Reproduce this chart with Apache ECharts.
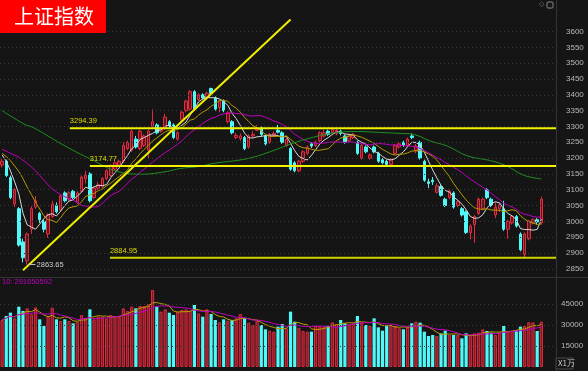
<!DOCTYPE html>
<html><head><meta charset="utf-8">
<script src="https://cdn.jsdelivr.net/npm/echarts@6/dist/echarts.min.js"></script>
<style>html,body{margin:0;padding:0;background:#151515;}#c{width:588px;height:371px;}</style>
</head><body><div id="c"></div>
<script>
// ---- data ----
const opens  = [3178,3190,3138,3055,3040,2935,2875,2975,3045,3025,3000,2960,3015,3050,3035,3090,3070,3095,3060,3095,
3135,3150,3075,3105,3110,3135,3145,3165,3177,3190,3230,3225,3260,3230,3240,3225,3300,3305,3285,3295,
3315,3305,3260,3320,3350,3355,3410,3385,3400,3390,3420,3390,3360,3380,3315,3315,3265,3262,3265,3235,
3270,3288,3295,3270,3250,3272,3288,3280,3240,3230,3185,3160,3190,3215,3245,3240,3255,3270,3285,3280,
3278,3285,3270,3255,3265,3250,3200,3235,3200,3235,3215,3195,3190,3180,3215,3235,3250,3240,3270,3222,
3250,3190,3125,3130,3092,3110,3070,3075,3090,3050,3040,3030,2965,2990,3025,3040,3100,3070,3020,3040,
3040,2975,2995,3015,2960,2895,2945,2995,3005,2995];
const closes = [3190,3145,3075,3100,2925,2885,2960,3040,3065,3005,2975,3020,3055,3030,3080,3065,3090,3075,3090,3140,
3145,3065,3105,3115,3135,3160,3175,3185,3190,3240,3250,3285,3235,3285,3270,3285,3315,3280,3295,3330,
3300,3265,3280,3345,3380,3410,3355,3400,3390,3405,3405,3355,3380,3350,3343,3280,3272,3270,3230,3270,
3275,3292,3275,3245,3275,3278,3282,3250,3260,3165,3160,3190,3220,3235,3238,3250,3280,3280,3275,3290,
3288,3278,3250,3270,3275,3215,3240,3220,3210,3220,3190,3185,3180,3195,3240,3245,3240,3260,3265,3238,
3200,3130,3120,3125,3112,3082,3050,3095,3045,3062,3020,2965,2985,3015,3070,3070,3075,3050,3045,3052,
2975,3000,3015,2985,2910,2960,3000,3005,2998,3070];
const highs  = [3198,3195,3145,3105,3045,2945,2965,3048,3080,3030,3005,3025,3065,3060,3085,3095,3095,3100,3095,3145,
3160,3155,3110,3125,3140,3165,3180,3190,3195,3250,3255,3290,3270,3290,3275,3290,3355,3310,3300,3340,
3320,3310,3285,3350,3385,3415,3415,3405,3405,3410,3423,3395,3385,3385,3348,3320,3280,3278,3270,3275,
3285,3305,3300,3275,3280,3285,3305,3285,3265,3235,3190,3195,3225,3240,3250,3255,3285,3290,3290,3295,
3292,3290,3275,3275,3280,3255,3245,3240,3215,3240,3220,3200,3195,3200,3245,3250,3255,3265,3278,3245,
3255,3195,3135,3140,3120,3115,3075,3100,3095,3068,3045,3035,2990,3020,3075,3075,3105,3075,3060,3060,
3065,3005,3020,3020,2965,2965,3005,3010,3010,3078];
const lows   = [3170,3140,3070,3045,2920,2870,2863.65,2960,3040,2995,2965,2948,3010,3025,3030,3060,3065,3070,3055,3090,
3120,3060,3070,3100,3105,3130,3140,3160,3172,3185,3225,3220,3230,3225,3235,3200,3295,3275,3280,3290,
3295,3260,3255,3315,3345,3350,3350,3380,3385,3385,3400,3350,3345,3345,3310,3275,3260,3255,3225,3230,
3265,3285,3270,3240,3245,3268,3278,3245,3235,3160,3155,3155,3185,3210,3232,3235,3250,3265,3270,3275,
3272,3272,3245,3250,3260,3210,3195,3215,3195,3215,3185,3180,3175,3175,3210,3230,3235,3235,3260,3215,
3195,3125,3105,3115,3088,3078,3045,3070,3040,3045,3015,2960,2943,2932,3020,3035,3070,3045,3010,3030,
2970,2945,2990,2980,2905,2884.95,2940,2990,2990,2990];
// volume in 万
const volumes = [33571,36429,38810,34762,43095,40000,41905,37619,42619,34048,29286,35952,42381,34048,32857,34048,32857,31190,32381,37143,
34762,41190,34048,35952,35952,34762,37143,35952,35952,41905,40000,43095,41905,43571,43571,45000,55000,43095,39524,41190,
38810,37143,39524,40714,41190,40238,44286,38333,35952,41190,37857,33571,31905,34048,33095,33571,34762,37857,34762,31667,
30000,33095,30000,26905,25952,25238,28810,30714,27619,39524,32381,28000,25714,25238,25238,29286,29286,28810,29286,31905,
30714,33571,31190,30714,31190,36429,31667,30000,29286,34762,28333,25952,29286,30000,29286,27619,26905,28333,31190,32381,
31667,25238,22143,22857,22143,24048,25952,22857,22857,22857,20476,24048,22143,24048,24524,26905,25714,24524,22857,24524,
29286,25238,25952,25952,28810,29286,31905,31905,25714,32381];
// moving-average values before enough history exists
const ma5Lead  = [3210,3190,3160,3125];
const ma10Lead = [3215,3205,3192,3175,3158,3135,3108,3085,3060];
const ma20Lead = [3228,3222,3215,3209,3203,3193,3183,3172,3160,3145,3130,3115,3103,3093,3085,3078,3072,3067,3060];
// MA60: [candle index, value]
const ma60Points = [[0,3350],[5.5,3306],[7.4,3297],[15.5,3235],[21,3198],[27.5,3158],[33.7,3149],[39.5,3158],[42.6,3167],
[47.4,3174],[50.5,3183],[58.6,3198],[64.1,3220],[68.9,3244],[74.4,3266],[80.2,3281],[85,3284],[90.5,3281],[95.3,3278],
[98.4,3275],[102.4,3254],[106.5,3238],[111.3,3207],[116.8,3192],[120.9,3174],[124.7,3146],[129,3134]];
// drawn lines
const levels = [3294.39, 3174.77, 2884.95];
const levelStarts = [16.2, 21.0, 25.8];
const trendLine = [[5, 2845], [69, 3638]];
const priceTicks = [2850,2900,2950,3000,3050,3100,3150,3200,3250,3300,3350,3400,3450,3500,3550,3600];
const volTicks = [15000, 30000, 45000];
const title = '上证指数';
const volLabel = '10: 291650592';

// ---- build ----
const N = opens.length, EXTRA = 3, M = N + EXTRA;
const categories = Array.from({length: M}, (_, i) => 'D' + (i + 1));
function ma(arr, n, lead) {
  return arr.map((_, i) => {
    if (i < n - 1) return lead ? lead[i] : +(arr.slice(0, i + 1).reduce((a, b) => a + b, 0) / (i + 1)).toFixed(2);
    let s = 0; for (let k = i - n + 1; k <= i; k++) s += arr[k];
    return +(s / n).toFixed(2);
  });
}
const UP = '#e42c3e', UPFILL = '#5e1621', DN = '#50f8f8';
const candle = opens.map((o, i) => [o, closes[i], lows[i], highs[i]]);
const volData = volumes.map((v, i) => ({
  value: v,
  itemStyle: closes[i] >= opens[i]
    ? {color: '#7e1a27', borderColor: '#dc2a3c', borderWidth: 1}
    : {color: DN, borderColor: DN, borderWidth: 0}
}));
let lowIdx = 0; lows.forEach((l, i) => { if (l < lows[lowIdx]) lowIdx = i; });
const lowVal = lows[lowIdx];

const dotted = {type: [1, 3], color: '#3a3a3a', width: 1};
const chart = echarts.init(document.getElementById('c'));
const lineS = (data, color, extra) => Object.assign({
  type: 'line', data, symbol: 'none', showSymbol: false, silent: true,
  lineStyle: {color, width: 1}, z: 4
}, extra || {});

const series = [
  {
    type: 'candlestick', data: candle, barWidth: 3,
    itemStyle: {color: UPFILL, color0: DN, borderColor: UP, borderColor0: DN, borderWidth: 1},
    z: 3,
    markLine: {silent: true, symbol: ['none', 'none'], label: {show: false}, lineStyle: dotted, animation: false,
      data: priceTicks.map(v => ({yAxis: v}))}
  },
  lineS(ma(closes, 5, ma5Lead), '#d8d8d8'),
  lineS(ma(closes, 10, ma10Lead), '#b49a00'),
  lineS(ma(closes, 20, ma20Lead), '#c000c0'),
  lineS(ma60Points, '#1e8f1e', {xAxisIndex: 1, smooth: 0.4}),
  lineS(trendLine, '#eeee00', {xAxisIndex: 1, lineStyle: {color: '#eeee00', width: 2}, z: 6}),
  ...levels.map((lv, k) => ({
    type: 'line', xAxisIndex: 1, yAxisIndex: 0, silent: true, symbol: 'circle', symbolSize: 0.01, z: 6,
    lineStyle: {color: k === 2 ? '#d2d200' : '#f2f200', width: 2},
    data: [{value: [levelStarts[k], lv], label: {show: true, formatter: lv.toFixed(2), position: [0, -11],
      color: '#dede00', fontSize: 7.5, fontFamily: 'Liberation Sans'}}, [M - 0.5, lv]]
  })),
  {
    type: 'line', xAxisIndex: 1, yAxisIndex: 0, silent: true, symbol: 'circle', symbolSize: 0.01, z: 6,
    lineStyle: {color: '#c8c8c8', width: 1},
    data: [[lowIdx + 0.2, lowVal], {value: [lowIdx + 2.0, lowVal], label: {show: true, formatter: String(lowVal),
      position: 'right', distance: 1, color: '#cccccc', fontSize: 7.5, fontFamily: 'Liberation Sans'}}]
  },
  {
    type: 'bar', xAxisIndex: 2, yAxisIndex: 1, data: volData, barWidth: 3.2, z: 3,
    markLine: {silent: true, symbol: ['none', 'none'], label: {show: false}, lineStyle: dotted, animation: false,
      data: volTicks.map(v => ({yAxis: v}))}
  },
  lineS(ma(volumes, 5), '#b8a000', {xAxisIndex: 2, yAxisIndex: 1}),
  lineS(ma(volumes, 10), '#c000c0', {xAxisIndex: 2, yAxisIndex: 1})
];

chart.setOption({
  backgroundColor: '#151515',
  animation: false,
  grid: [
    {left: 0, width: 556, top: -8.23, height: 292.8},
    {left: 0, width: 556, top: 278, height: 89}
  ],
  xAxis: [
    {type: 'category', data: categories, gridIndex: 0, show: false},
    {type: 'value', min: -0.5, max: M - 0.5, gridIndex: 0, show: false},
    {type: 'category', data: categories, gridIndex: 1, show: false}
  ],
  yAxis: [
    {type: 'value', gridIndex: 0, position: 'right', min: 2800, max: 3700, interval: 50,
      axisLine: {show: false}, axisTick: {show: false}, splitLine: {show: false},
      axisLabel: {color: '#b8b8b8', fontSize: 8, margin: 10, fontFamily: 'Liberation Sans',
        formatter: v => priceTicks.includes(v) ? String(v) : ''}},
    {type: 'value', gridIndex: 1, position: 'right', min: 0, max: 63571, interval: 15000,
      axisLine: {show: false}, axisTick: {show: false}, splitLine: {show: false},
      axisLabel: {color: '#b8b8b8', fontSize: 8, margin: 5, fontFamily: 'Liberation Sans', showMaxLabel: false,
        formatter: v => volTicks.includes(v) ? String(v) : ''}}
  ],
  graphic: [
    {type: 'line', shape: {x1: 556.5, y1: 0, x2: 556.5, y2: 371}, style: {stroke: '#343434', lineWidth: 1}, z: 1},
    {type: 'line', shape: {x1: 0, y1: 277.5, x2: 588, y2: 277.5}, style: {stroke: '#343434', lineWidth: 1}, z: 1},
    {type: 'rect', shape: {x: 0, y: 0, width: 106, height: 33}, style: {fill: '#ff0000'}, z: 10},
    {type: 'text', left: 14, top: 6, style: {text: title, fill: '#ffffff', font: '20px "Noto Sans CJK SC"'}, z: 11},
    {type: 'text', left: 2, top: 278, style: {text: volLabel, fill: '#c000c0', font: '7.5px "Liberation Sans"'}, z: 11},
    {type: 'rect', shape: {x: 556, y: 358, width: 17, height: 11}, style: {fill: '#151515', stroke: '#4a4a4a'}, z: 11},
    {type: 'text', left: 558, top: 359, style: {text: 'X1万', fill: '#c8c8c8', font: '8px "Noto Sans CJK SC"'}, z: 12},
    {type: 'text', left: 539, top: 1, style: {text: '◇', fill: '#777', font: '7px "DejaVu Sans"'}, z: 11},
    {type: 'rect', shape: {x: 547, y: 2, width: 6, height: 6, r: 1}, style: {fill: 'none', stroke: '#888'}, z: 11}
  ],
  series
});
</script></body></html>
